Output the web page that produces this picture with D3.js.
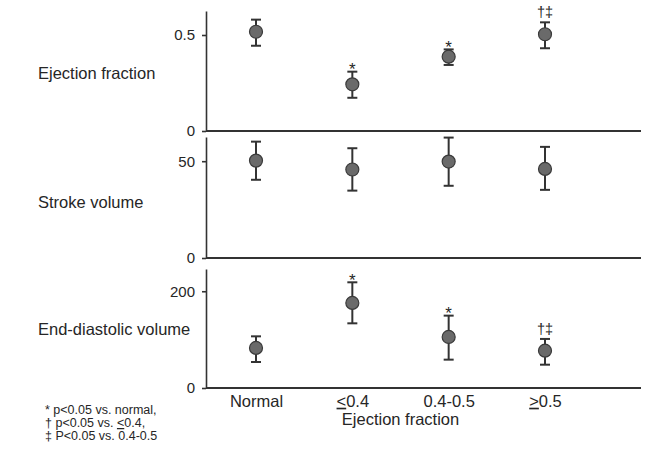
<!DOCTYPE html>
<html>
<head>
<meta charset="utf-8">
<script src="https://cdn.jsdelivr.net/npm/d3@7"></script>
<style>
	body { margin: 0; background: #fff; }
	svg text { font-family: "Liberation Sans", Arial, sans-serif; fill: #262626; }
	.axis path, .axis line { stroke: #333; stroke-width: 1.6; }
	.axis.y text { font-size: 15px; }
	.axis.x text { font-size: 16.5px; }
	.label { font-size: 16.5px; }
</style>
</head>
<body>
<div id="chart"></div>
<script>
//Data
var groups = ["Normal", "≤0.4", "0.4-0.5", "≥0.5"];

var efMean = [0.517, 0.243, 0.387, 0.504];
var efLow = [0.444, 0.173, 0.344, 0.431];
var efHigh = [0.580, 0.309, 0.425, 0.566];
var efSig = ["", "*", "*", "†‡"];

var svMean = [50.3, 45.7, 49.8, 46.0];
var svLow = [40.4, 34.8, 37.3, 35.2];
var svHigh = [60.1, 56.7, 62.2, 57.4];
var svSig = ["", "", "", ""];

var edvMean = [82.8, 175.9, 105.5, 77.2];
var edvLow = [53.8, 133.7, 58.6, 48.2];
var edvHigh = [106.8, 218.5, 149.6, 101.4];
var edvSig = ["", "*", "*", "†‡"];

var footnotes = ["* p<0.05 vs. normal,", "† p<0.05 vs. <0.4,", "‡ P<0.05 vs. 0.4-0.5"];

//Panels (each has its own y scale)
var panels = [
	{ label: "Ejection fraction", mean: efMean, low: efLow, high: efHigh, sig: efSig,
		max: 0.625, ticks: [0, 0.5], fmt: function(d) { return d === 0 ? "0" : d3.format(".1f")(d); },
		top: 11, bottom: 131, labelY: 79 },
	{ label: "Stroke volume", mean: svMean, low: svLow, high: svHigh, sig: svSig,
		max: 62.5, ticks: [0, 50], fmt: d3.format("d"), top: 137, bottom: 258, labelY: 208 },
	{ label: "End-diastolic volume", mean: edvMean, low: edvLow, high: edvHigh, sig: edvSig,
		max: 246, ticks: [0, 200], fmt: d3.format("d"), top: 269, bottom: 388, labelY: 335 }
];

var width = 652, height = 450;
var left = 206, plotW = 435;

var svg = d3.select("#chart").append("svg")
	.attr("width", width)
	.attr("height", height);

var x = d3.scalePoint()
	.domain(groups)
	.range([50, 339]);

panels.forEach(function(p, pi) {
	var y = d3.scaleLinear()
		.domain([0, p.max])
		.range([p.bottom - p.top, 0]);

	var g = svg.append("g")
		.attr("transform", "translate(" + left + "," + p.top + ")");

	//y axis
	g.append("g")
		.attr("class", "axis y")
		.call(d3.axisLeft(y).tickValues(p.ticks).tickFormat(p.fmt).tickSize(4).tickSizeOuter(0).tickPadding(7));

	//baseline
	g.append("line")
		.attr("class", "baseline")
		.attr("x1", 0)
		.attr("x2", plotW)
		.attr("y1", y(0))
		.attr("y2", y(0))
		.attr("stroke", "#333")
		.attr("stroke-width", 1.8);

	//panel label
	svg.append("text")
		.attr("class", "label")
		.attr("x", 38)
		.attr("y", p.labelY)
		.text(p.label);

	var rows = groups.map(function(gr, i) {
		return { group: gr, mean: p.mean[i], low: p.low[i], high: p.high[i], sig: p.sig[i] };
	});

	var pt = g.selectAll(".pt")
		.data(rows)
		.enter()
		.append("g")
		.attr("class", "pt")
		.attr("transform", function(d) { return "translate(" + x(d.group) + ",0)"; });

	//error bars
	pt.append("line")
		.attr("y1", function(d) { return y(d.low); })
		.attr("y2", function(d) { return y(d.high); })
		.attr("stroke", "#333")
		.attr("stroke-width", 2);
	pt.selectAll(".cap")
		.data(function(d) { return [d.low, d.high]; })
		.enter()
		.append("line")
		.attr("class", "cap")
		.attr("x1", -5)
		.attr("x2", 5)
		.attr("y1", function(v) { return y(v); })
		.attr("y2", function(v) { return y(v); })
		.attr("stroke", "#333")
		.attr("stroke-width", 2);

	//means
	pt.append("circle")
		.attr("cy", function(d) { return y(d.mean); })
		.attr("r", 6.5)
		.attr("fill", "#6a6a6a")
		.attr("stroke", "#3a3a3a")
		.attr("stroke-width", 1.2);

	//significance marks
	pt.append("text")
		.attr("text-anchor", "middle")
		.attr("font-size", function(d) { return d.sig === "*" ? "17px" : "14.5px"; })
		.attr("y", function(d) { return y(d.high) + (d.sig === "*" ? 3.5 : -5); })
		.text(function(d) { return d.sig; });

	//x labels on the bottom panel only
	if (pi === panels.length - 1) {
		var xa = g.append("g")
			.attr("class", "axis x")
			.attr("transform", "translate(0," + y(0) + ")")
			.call(d3.axisBottom(x).tickSize(0).tickPadding(7));
		xa.select(".domain").remove();
		xa.selectAll("text")
			.each(function(d) {
				var t = d3.select(this);
				if (d[0] === "≤" || d[0] === "≥") {
					t.text(null);
					t.append("tspan")
						.attr("text-decoration", "underline")
						.text(d[0] === "≤" ? "<" : ">");
					t.append("tspan").text(d.slice(1));
				}
			});

		svg.append("text")
			.attr("class", "label")
			.attr("x", left + (x("≤0.4") + x("0.4-0.5")) / 2)
			.attr("y", 425)
			.attr("text-anchor", "middle")
			.text("Ejection fraction");
	}
});

//footnote
var fn = svg.append("g")
	.attr("transform", "translate(45,414)");
fn.selectAll("text")
	.data(footnotes)
	.enter()
	.append("text")
	.attr("y", function(d, i) { return i * 13; })
	.attr("font-size", "12.5px")
	.each(function(d, i) {
		var t = d3.select(this);
		if (i === 1) {
			t.append("tspan").text("† p<0.05 vs. ");
			t.append("tspan").attr("text-decoration", "underline").text("<");
			t.append("tspan").text("0.4,");
		} else {
			t.text(d);
		}
	});
</script>
</body>
</html>
